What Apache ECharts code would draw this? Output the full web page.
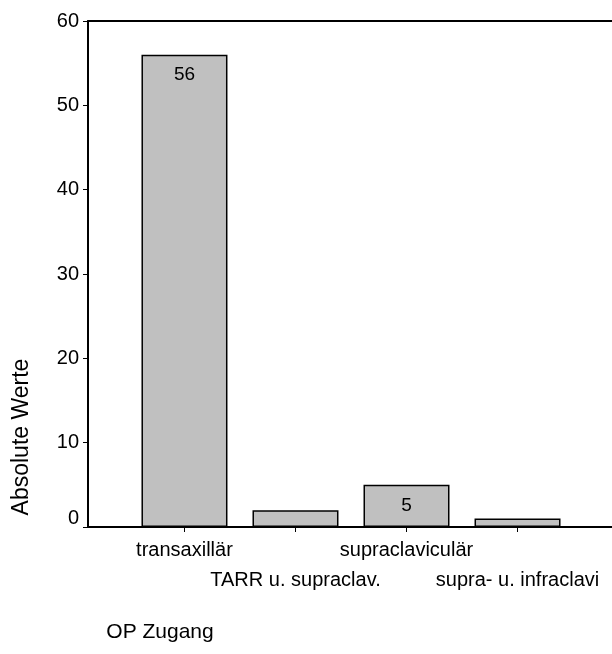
<!DOCTYPE html>
<html>
<head>
<meta charset="utf-8">
<script src="https://cdn.jsdelivr.net/npm/echarts@6/dist/echarts.min.js"></script>
<style>html,body{margin:0;padding:0;background:#fff;}#chart{width:612px;height:654px;}</style>
</head>
<body>
<div id="chart"></div>
<script>
const categories = ['transaxillär', 'TARR u. supraclav.', 'supraclaviculär', 'supra- u. infraclavi'];
const values = [56, 2, 5, 1];
const valueLabels = ['56', '', '5', ''];

const font = '"Liberation Sans", Arial, sans-serif';
const chart = echarts.init(document.getElementById('chart'), null, {renderer: 'canvas'});
const positions = categories.map((c, i) => i);
const evenPos = positions.filter(i => i % 2 === 0);
const oddPos = positions.filter(i => i % 2 === 1);
const xMin = -0.869, xMax = 3.851;

const labelBase = {color: '#000', fontFamily: font, fontSize: 20, hideOverlap: false, showMinLabel: true, showMaxLabel: true};

chart.setOption({
  animation: false,
  backgroundColor: '#fff',
  textStyle: {fontFamily: font, color: '#000'},
  grid: {left: 88, right: 0, top: 21, bottom: 127, containLabel: false, outerBoundsMode: 'none'},
  xAxis: [{
    type: 'value', min: xMin, max: xMax,
    name: 'OP Zugang', nameLocation: 'middle', nameGap: 95,
    nameTextStyle: {fontSize: 21, color: '#000', fontFamily: font, padding: [0, 380, 0, 0], verticalAlign: 'top'},
    axisLine: {show: true, onZero: false, lineStyle: {color: '#000', width: 2}},
    axisTick: {show: true, customValues: positions, length: 5, lineStyle: {color: '#000', width: 1}},
    axisLabel: Object.assign({}, labelBase, {
      customValues: evenPos, margin: 13,
      formatter: function (v) { return categories[Math.round(v)]; }
    }),
    splitLine: {show: false}
  }, {
    type: 'value', position: 'top', min: xMin, max: xMax,
    axisLine: {show: true, onZero: false, lineStyle: {color: '#000', width: 2}},
    axisTick: {show: false}, axisLabel: {show: false}, splitLine: {show: false}
  }, {
    type: 'value', position: 'bottom', min: xMin, max: xMax,
    axisLine: {show: false, onZero: false},
    axisTick: {show: false},
    axisLabel: Object.assign({}, labelBase, {
      customValues: oddPos, margin: 43,
      formatter: function (v) { return categories[Math.round(v)]; }
    }),
    splitLine: {show: false}
  }],
  yAxis: {
    type: 'value', min: 0, max: 60, interval: 10,
    name: 'Absolute Werte', nameLocation: 'middle', nameGap: 55, nameRotate: 90,
    nameTextStyle: {fontSize: 23, color: '#000', fontFamily: font, padding: [0, 326, 0, 0]},
    axisLine: {show: true, onZero: false, lineStyle: {color: '#000', width: 2}},
    axisTick: {show: true, length: 5, lineStyle: {color: '#000', width: 1}},
    axisLabel: {
      margin: 9, color: '#000', fontFamily: font, fontSize: 20,
      formatter: function (v) { return v === 0 ? '{z|0}' : String(v); },
      rich: {z: {fontSize: 20, fontFamily: font, color: '#000', padding: [0, 0, 18, 0]}}
    },
    splitLine: {show: false}
  },
  series: [{
    type: 'bar',
    xAxisIndex: 0,
    barWidth: 86,
    data: values.map((v, i) => ({value: [positions[i], v]})),
    itemStyle: {color: '#c0c0c0', borderColor: '#000', borderWidth: 1.5},
    label: {
      show: true, position: 'insideTop', distance: 11, color: '#000', fontFamily: font, fontSize: 19,
      formatter: function (p) { return valueLabels[p.dataIndex]; }
    }
  }]
});
</script>
</body>
</html>
